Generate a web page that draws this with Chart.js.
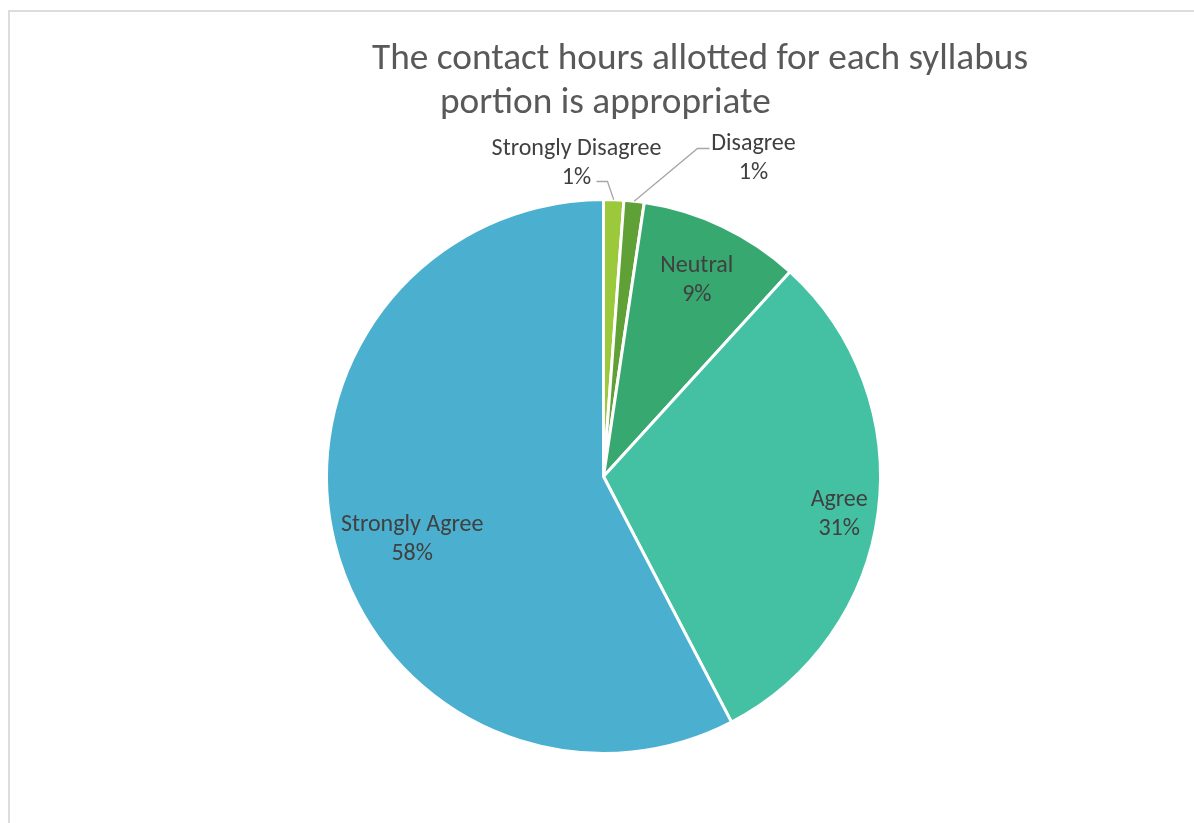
<!DOCTYPE html>
<html>
<head>
<meta charset="utf-8">
<script src="https://cdn.jsdelivr.net/npm/chart.js@4/dist/chart.umd.min.js"></script>
<style>
    html, body { margin: 0; padding: 0; background: #fff; overflow: hidden; }
    #frame { position: absolute; left: 8px; top: 10px; width: 1300px; height: 900px; border: 2px solid #dcdcdc; box-sizing: border-box; }
    #pie { position: absolute; left: 0; top: 0; }
</style>
</head>
<body>
<div id="frame"></div>
<canvas id="pie" width="1194" height="823"></canvas>
<script>
const categories = ['Strongly Disagree', 'Disagree', 'Neutral', 'Agree', 'Strongly Agree'];
const responses = [1, 1, 8, 26, 49];
const sliceColors = ['#9cc93b', '#5fa136', '#37a870', '#44c1a2', '#4bb0cf'];
const titleLines = ['The contact hours allotted for each syllabus', 'portion is appropriate'];

// where each slice label goes: inside ones by radius fraction (+ small turn in degrees),
// outside ones by offset from the pie centre with a leader line
const labelSpots = [
    { outside: true, text: [-27, -313], elbow: [4, -295], end: [-7, -295] },
    { outside: true, text: [150, -318], elbow: [94, -328], end: [106, -328] },
    { r: 0.785, turn: 0 },
    { r: 0.862, turn: 1.8 },
    { r: 0.727, turn: -4.4 }
];

const FONT = 'Carlito, Calibri, Lato';

function fitFont(ctx, text, width) {
    ctx.font = '100px ' + FONT;
    const size = 100 * width / ctx.measureText(text).width;
    return size.toFixed(1) + 'px ' + FONT;
}

const textPlugin = {
    id: 'textPlugin',
    afterDraw(chart) {
        const ctx = chart.ctx;
        const meta = chart.getDatasetMeta(0);
        const total = responses.reduce((a, b) => a + b, 0);
        const first = meta.data[0];
        const cx = first.x, cy = first.y, R = first.outerRadius;

        ctx.save();
        // title
        ctx.fillStyle = '#595959';
        ctx.textBaseline = 'alphabetic';
        ctx.textAlign = 'center';
        ctx.font = fitFont(ctx, titleLines[0], 656);
        ctx.fillText(titleLines[0], 700, 69);
        ctx.textAlign = 'left';
        ctx.fillText(titleLines[1], 440, 113);

        // slice labels
        ctx.font = fitFont(ctx, 'Strongly Disagree', 170);
        ctx.fillStyle = '#404040';
        ctx.textAlign = 'center';
        ctx.textBaseline = 'middle';
        meta.data.forEach((arc, i) => {
            const pct = Math.round(responses[i] / total * 100) + '%';
            const spot = labelSpots[i];
            const mid = (arc.startAngle + arc.endAngle) / 2;
            let lx, ly;
            if (spot.outside) {
                lx = cx + spot.text[0];
                ly = cy + spot.text[1];
                ctx.strokeStyle = '#a6a6a6';
                ctx.lineWidth = 1.3;
                ctx.beginPath();
                ctx.moveTo(cx + Math.cos(mid) * R, cy + Math.sin(mid) * R);
                ctx.lineTo(cx + spot.elbow[0], cy + spot.elbow[1]);
                ctx.lineTo(cx + spot.end[0], cy + spot.end[1]);
                ctx.stroke();
            } else {
                const a = mid + spot.turn * Math.PI / 180;
                lx = cx + Math.cos(a) * R * spot.r;
                ly = cy + Math.sin(a) * R * spot.r;
            }
            ctx.fillText(categories[i], lx, ly - 14.5);
            ctx.fillText(pct, lx, ly + 14.5);
        });
        ctx.restore();
    }
};

new Chart(document.getElementById('pie'), {
    type: 'pie',
    data: {
        labels: categories,
        datasets: [{
            data: responses,
            backgroundColor: sliceColors,
            borderColor: '#ffffff',
            borderWidth: 3
        }]
    },
    options: {
        responsive: false,
        animation: false,
        devicePixelRatio: 1,
        layout: {
            padding: { left: 325, right: 312, top: 198, bottom: 68 }
        },
        plugins: {
            legend: { display: false },
            tooltip: { enabled: false }
        }
    },
    plugins: [textPlugin]
});
</script>
</body>
</html>
